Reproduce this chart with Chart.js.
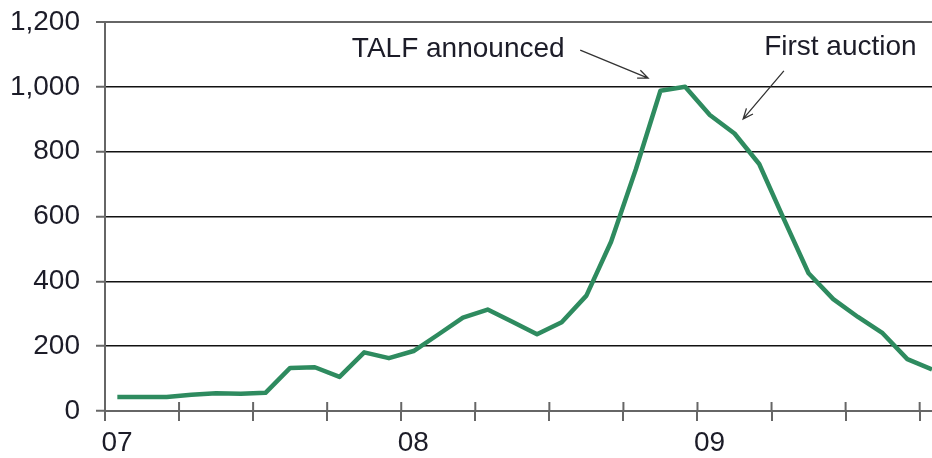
<!DOCTYPE html>
<html>
<head>
<meta charset="utf-8">
<script src="https://cdn.jsdelivr.net/npm/chart.js@4/dist/chart.umd.min.js"></script>
<style>
  html, body { margin: 0; padding: 0; background: #fff; }
  #wrap { width: 932px; height: 458px; }
</style>
</head>
<body>
<div id="wrap"><canvas id="myChart"></canvas></div>
<script>
'use strict';

// monthly values, Jan 2007 .. Oct 2009 (month index 0 = Jan 2007)
const months = [];
for (let i = 0; i < 34; i++) months.push(i);
const values = [
  43, 43, 43, 50, 55, 53, 56, 133, 135, 105, 181, 163,
  185, 236, 288, 313, 275, 237, 274, 356, 522, 745, 988, 1000,
  913, 856, 762, 592, 425, 345, 290, 240, 160, 128,
];
const yearTicks = ['07', '08', '09'];
const yTicks = [0, 200, 400, 600, 800, 1000, 1200];

// notes: text, text position (month, value), arrow from -> to
const notes = [
  { text: 'TALF announced', x: 10.0, y: 1117, from: [19.25, 1113], to: [22.0, 1027] },
  { text: 'First auction', x: 26.7, y: 1123, from: [27.5, 1049], to: [25.85, 901] },
];

const axisColor = '#666';
const textColor = '#1c1c28';
const fontFace = "'Liberation Sans', Arial, sans-serif";

const annotations = {
  id: 'annotations',
  afterDatasetsDraw(chart) {
    const { ctx, scales } = chart;
    const xs = scales.x, ys = scales.y;
    ctx.save();
    // upper half of the x ticks (they cross the axis)
    ctx.strokeStyle = axisColor;
    ctx.lineWidth = 2;
    xs.ticks.forEach((t) => {
      const px = xs.getPixelForValue(t.value);
      ctx.beginPath();
      ctx.moveTo(px, ys.bottom);
      ctx.lineTo(px, ys.bottom - 9);
      ctx.stroke();
    });
    // note labels and arrows
    ctx.font = '28px ' + fontFace;
    ctx.fillStyle = textColor;
    ctx.textBaseline = 'middle';
    ctx.textAlign = 'left';
    notes.forEach((n) => {
      ctx.fillText(n.text, xs.getPixelForValue(n.x), ys.getPixelForValue(n.y));
      const x1 = xs.getPixelForValue(n.from[0]), y1 = ys.getPixelForValue(n.from[1]);
      const x2 = xs.getPixelForValue(n.to[0]), y2 = ys.getPixelForValue(n.to[1]);
      ctx.strokeStyle = '#333';
      ctx.lineWidth = 1.3;
      ctx.beginPath();
      ctx.moveTo(x1, y1);
      ctx.lineTo(x2, y2);
      const a = Math.atan2(y2 - y1, x2 - x1);
      ctx.moveTo(x2 - 11 * Math.cos(a - 0.4), y2 - 11 * Math.sin(a - 0.4));
      ctx.lineTo(x2, y2);
      ctx.lineTo(x2 - 11 * Math.cos(a + 0.4), y2 - 11 * Math.sin(a + 0.4));
      ctx.stroke();
    });
    ctx.restore();
  },
};

new Chart(document.getElementById('myChart'), {
  type: 'line',
  data: {
    datasets: [
      {
        data: months.map((m, i) => ({ x: m + 0.5, y: values[i] })),
        borderColor: '#2e8b5f',
        borderWidth: 4.5,
        pointRadius: 0,
        tension: 0,
        borderJoinStyle: 'round',
      },
    ],
  },
  options: {
    responsive: true,
    maintainAspectRatio: false,
    animation: false,
    layout: { padding: { top: 22, right: 0, left: 0, bottom: 0 } },
    plugins: { legend: { display: false }, tooltip: { enabled: false } },
    scales: {
      x: {
        type: 'linear',
        min: 0,
        max: 33.5,
        afterBuildTicks: (scale) => {
          const t = [];
          for (let v = 0; v <= 33; v += 3) t.push({ value: v });
          scale.ticks = t;
        },
        afterFit: (scale) => {
          scale.height = 47;
          scale.paddingLeft = 0;
          scale.paddingRight = 0;
        },
        border: { color: axisColor, width: 2 },
        grid: {
          drawOnChartArea: false,
          drawTicks: true,
          tickLength: 10,
          color: axisColor,
          lineWidth: 2,
        },
        ticks: {
          autoSkip: false,
          maxRotation: 0,
          padding: 5,
          labelOffset: 12,
          color: textColor,
          font: { size: 28, family: fontFace },
          callback: (value) => (value % 12 === 0 ? yearTicks[value / 12] : ''),
        },
      },
      y: {
        min: 0,
        max: 1200,
        afterBuildTicks: (scale) => {
          scale.ticks = yTicks.map((v) => ({ value: v }));
        },
        afterFit: (scale) => {
          scale.width = 105;
          scale.paddingTop = 0;
          scale.paddingBottom = 0;
        },
        border: { color: axisColor, width: 2 },
        grid: {
          color: (c) => (c.tick && c.tick.value === 1200 ? axisColor : '#111'),
          lineWidth: (c) => (c.tick && c.tick.value === 1200 ? 2 : 1.5),
          tickColor: axisColor,
          tickLength: 9,
          tickWidth: 2,
        },
        ticks: {
          padding: 16,
          color: textColor,
          font: { size: 28, family: fontFace },
          callback: (value) => value.toLocaleString('en-US'),
        },
      },
    },
  },
  plugins: [annotations],
});
</script>
</body>
</html>
